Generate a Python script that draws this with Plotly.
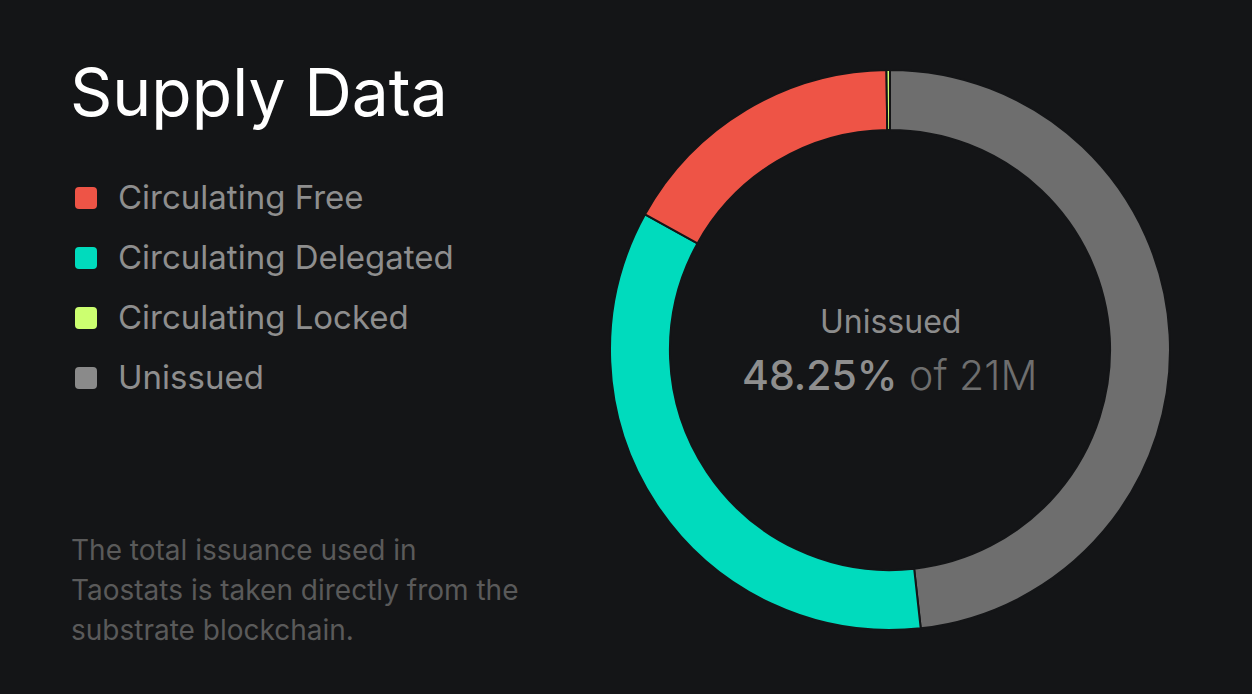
import plotly.graph_objects as go

# ---- data ----
labels = ["Circulating Free", "Circulating Delegated", "Circulating Locked", "Unissued"]
shares = [16.75, 34.80, 0.20, 48.25]          # percent of 21M supply
slice_colors = ["#EE5446", "#00DBBD", "#CCFF70", "#6E6E6E"]
legend_colors = ["#EE5446", "#00DBBD", "#CCFF70", "#8A8A8A"]
pie_order = [3, 1, 0, 2]                       # clockwise from 12 o'clock
title_text = "Supply Data"
center_label = "Unissued"
center_value = "48.25%"
center_suffix = "of 21M"
footer_lines = ["The total issuance used in",
                "Taostats is taken directly from the",
                "substrate blockchain."]

W, H = 1252, 694
BG = "#141517"
FONT = "Inter"


def px(x):
    return x / W


def py(y):
    return 1 - y / H


fig = go.Figure()
fig.add_trace(go.Pie(
    labels=[labels[i] for i in pie_order],
    values=[shares[i] for i in pie_order],
    marker=dict(colors=[slice_colors[i] for i in pie_order],
                line=dict(color=BG, width=2)),
    hole=0.786,
    sort=False,
    direction="clockwise",
    rotation=0,
    textinfo="none",
    hoverinfo="label+percent",
    showlegend=False,
    domain=dict(x=[px(610), px(1170)], y=[py(630), py(70)]),
))

shapes = []
annotations = []

# title
annotations.append(dict(x=px(68), y=py(92), xref="paper", yref="paper",
                        text=title_text, showarrow=False, xanchor="left", yanchor="middle",
                        font=dict(family=FONT, size=66, color="#FFFFFF", weight=400)))

# legend
for i, (lab, col) in enumerate(zip(labels, legend_colors)):
    cy = 198 + 60 * i
    x0, x1, y0, y1, r = 75, 97, cy - 11, cy + 11, 4
    path = (f"M {px(x0 + r)} {py(y0)} L {px(x1 - r)} {py(y0)} Q {px(x1)} {py(y0)} {px(x1)} {py(y0 + r)} "
            f"L {px(x1)} {py(y1 - r)} Q {px(x1)} {py(y1)} {px(x1 - r)} {py(y1)} "
            f"L {px(x0 + r)} {py(y1)} Q {px(x0)} {py(y1)} {px(x0)} {py(y1 - r)} "
            f"L {px(x0)} {py(y0 + r)} Q {px(x0)} {py(y0)} {px(x0 + r)} {py(y0)} Z")
    shapes.append(dict(type="path", path=path, xref="paper", yref="paper",
                       fillcolor=col, line=dict(width=0)))
    annotations.append(dict(x=px(116), y=py(cy - 1), xref="paper", yref="paper",
                            text=lab, showarrow=False, xanchor="left", yanchor="middle",
                            font=dict(family=FONT, size=33, color="#8E8E8E")))

# footer
for i, line in enumerate(footer_lines):
    annotations.append(dict(x=px(69), y=py(550 + 40 * i), xref="paper", yref="paper",
                            text=line, showarrow=False, xanchor="left", yanchor="middle",
                            font=dict(family=FONT, size=28, color="#5A5A5A")))

# centre text
annotations.append(dict(x=px(890), y=py(321), xref="paper", yref="paper",
                        text=center_label, showarrow=False, xanchor="center", yanchor="middle",
                        font=dict(family=FONT, size=32, color="#8C8C8C")))
annotations.append(dict(x=px(889), y=py(375), xref="paper", yref="paper",
                        text=f"{center_value}<span style='font-weight:300;color:#6E6E6E'> {center_suffix}</span>",
                        showarrow=False, xanchor="center", yanchor="middle",
                        font=dict(family=FONT, size=41, color="#8E8E8E", weight=500)))

fig.update_layout(
    width=W, height=H,
    margin=dict(l=0, r=0, t=0, b=0),
    paper_bgcolor=BG, plot_bgcolor=BG,
    shapes=shapes, annotations=annotations,
    showlegend=False,
)

fig.write_html("out.html",
               config={"displayModeBar": False},
               post_script="document.body.style.margin='0';"
                           "document.body.style.background='#141517';")
